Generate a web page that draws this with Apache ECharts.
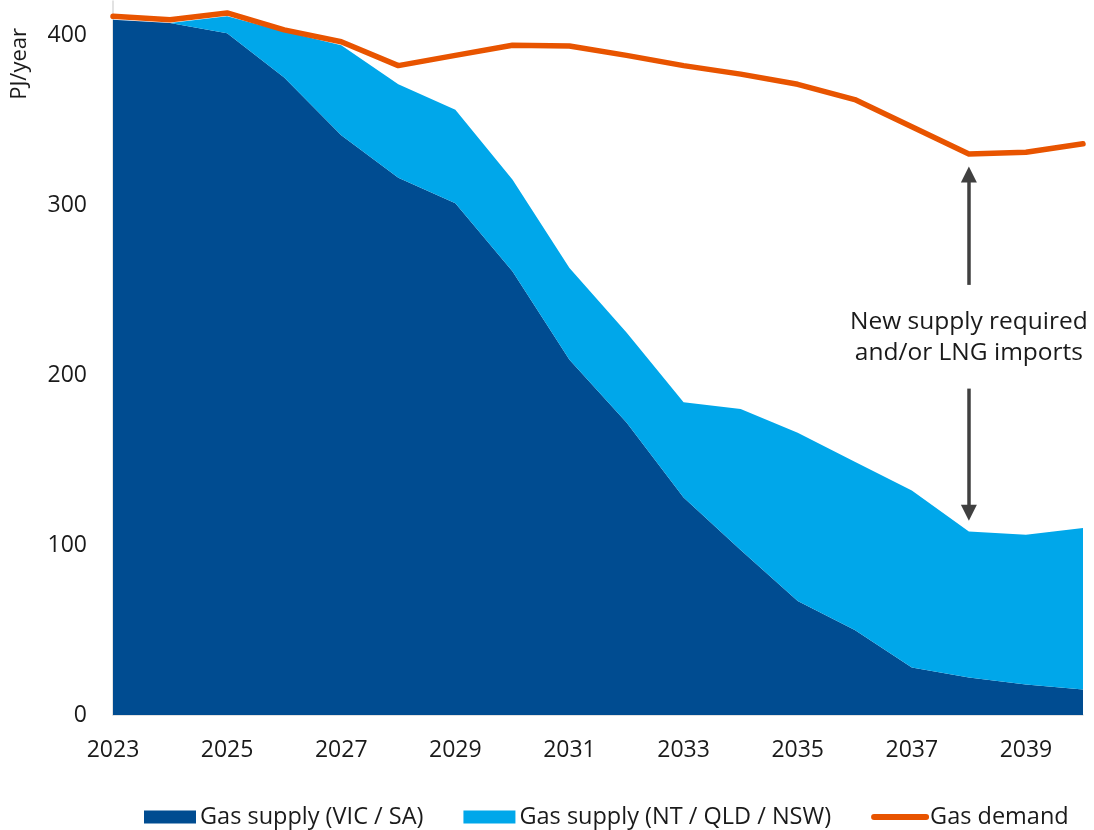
<!DOCTYPE html>
<html>
<head>
<meta charset="utf-8">
<script src="https://cdn.jsdelivr.net/npm/echarts@6/dist/echarts.min.js"></script>
<style>html,body{margin:0;padding:0;background:#fff}#c{width:1094px;height:830px}</style>
</head>
<body>
<div id="c"></div>
<script>
const years = ['2023','2024','2025','2026','2027','2028','2029','2030','2031','2032','2033','2034','2035','2036','2037','2038','2039','2040'];
const supplyVicSa = [409, 407, 401, 375, 341, 316, 301, 261, 209, 172, 128, 97, 67, 50, 28, 22, 18, 15];
const supplyNtQldNsw = [0, 0, 10, 27, 53, 55, 55, 54, 54, 53, 56, 83, 99, 99, 104, 86, 88, 95];
const gasDemand = [411, 409, 413, 403, 396, 382, 388, 394, 393.5, 388, 382, 377, 371, 362, 346, 330, 331, 336];
const yTicks = [0, 100, 200, 300, 400];

const FONT = 'Open Sans';
const chart = echarts.init(document.getElementById('c'));
chart.setOption({
  animation: false,
  textStyle: { fontFamily: FONT },
  grid: { left: 113, right: 11, top: 1, bottom: 115, containLabel: false },
  legend: {
    left: 144, top: 804, padding: 0,
    itemWidth: 52, itemHeight: 13, itemGap: 40,
    textStyle: { fontFamily: FONT, fontSize: 23.5, lineHeight: 26, color: '#1a1a1a', padding: [0, 0, 0, -1] },
    data: [
      { name: 'Gas supply (VIC / SA)', icon: 'rect' },
      { name: 'Gas supply (NT / QLD / NSW)', icon: 'rect' },
      { name: 'Gas demand', itemStyle: { opacity: 0 }, lineStyle: { width: 6, cap: 'round', color: '#E85400' } }
    ]
  },
  xAxis: {
    type: 'category', data: years, boundaryGap: false,
    axisLine: { show: true, lineStyle: { color: '#d9d9d9', width: 1.5 } },
    axisTick: { show: false },
    axisLabel: { interval: 1, margin: 24, fontSize: 23, color: '#1a1a1a', fontFamily: FONT },
    splitLine: { show: false }
  },
  yAxis: {
    type: 'value', min: 0, max: 420, interval: 100,
    name: 'PJ/year', nameLocation: 'end', nameRotate: 90, nameGap: -27,
    nameTextStyle: { fontSize: 22, color: '#1a1a1a', fontFamily: FONT, align: 'right', verticalAlign: 'bottom', padding: [0, 0, 82, 0] },
    axisLine: { show: true, lineStyle: { color: '#d9d9d9', width: 1.5 } },
    axisTick: { show: false },
    axisLabel: { margin: 26, fontSize: 23, color: '#1a1a1a', fontFamily: FONT, showMaxLabel: false,
      formatter: v => yTicks.includes(v) ? String(v) : '' },
    splitLine: { show: false }
  },
  series: [
    {
      name: 'Gas supply (VIC / SA)', type: 'line', stack: 'supply', data: supplyVicSa,
      symbol: 'none', lineStyle: { width: 0 }, itemStyle: { color: '#004C91' },
      areaStyle: { color: '#004C91', opacity: 1 }, z: 2
    },
    {
      name: 'Gas supply (NT / QLD / NSW)', type: 'line', stack: 'supply', data: supplyNtQldNsw,
      symbol: 'none', lineStyle: { width: 0 }, itemStyle: { color: '#00A7EA' },
      areaStyle: { color: '#00A7EA', opacity: 1 }, z: 2
    },
    {
      name: 'Gas demand', type: 'line', data: gasDemand,
      symbol: 'none', itemStyle: { color: '#E85400' },
      lineStyle: { color: '#E85400', width: 5.5, cap: 'round', join: 'round' }, z: 4,
      markLine: {
        silent: true, animation: false,
        symbol: ['none', 'triangle'], symbolSize: [16, 16],
        lineStyle: { color: '#404040', width: 3.5, type: 'solid' },
        label: { show: false },
        data: [
          [{ coord: ['2038', 253] }, { coord: ['2038', 318] }],
          [{ coord: ['2038', 192] }, { coord: ['2038', 119] }]
        ]
      },
      markPoint: {
        silent: true, symbol: 'circle', symbolSize: 1, itemStyle: { color: 'rgba(0,0,0,0)' },
        label: { show: true, position: 'inside', formatter: 'New supply required\nand/or LNG imports',
          fontSize: 24.5, lineHeight: 31, color: '#1a1a1a', fontFamily: FONT, align: 'center' },
        data: [{ coord: ['2038', 222] }]
      }
    }
  ]
});
</script>
</body>
</html>
